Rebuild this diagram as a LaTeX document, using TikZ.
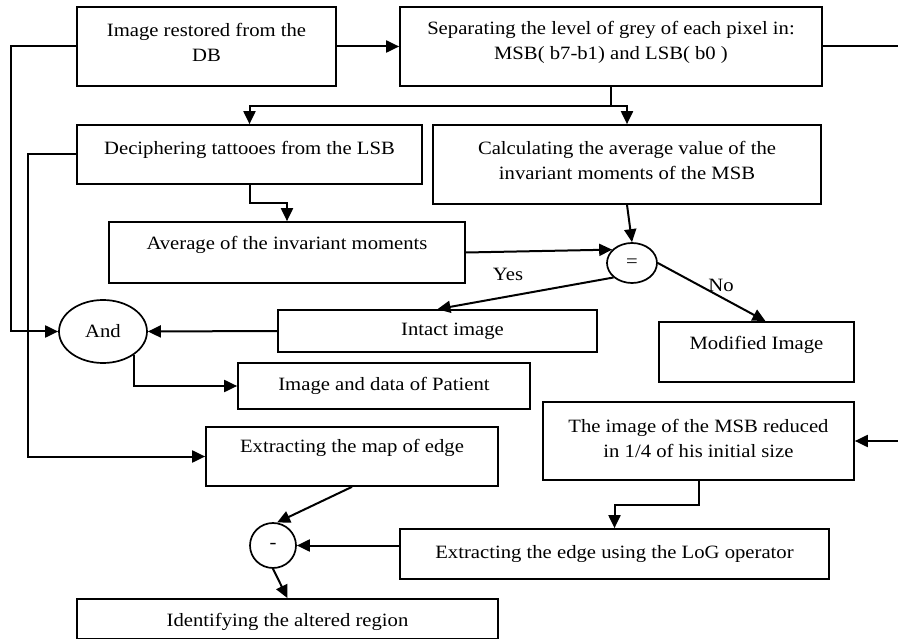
\documentclass[tikz,border=0pt]{standalone}
\usepackage{fontspec}
\setmainfont{Liberation Serif}[FakeStretch=1.1]
\usetikzlibrary{arrows.meta,shapes.geometric,calc}
\begin{document}
\begin{tikzpicture}[x=1pt,y=-1pt,
  txt/.style={align=center,font=\fontsize{18.8}{25}\selectfont,inner sep=0pt},
  box/.style={draw,line width=1.7pt,rectangle,inner sep=0pt},
  ell/.style={draw,line width=1.7pt,ellipse,inner sep=0pt,font=\fontsize{18.8}{25}\selectfont},
  conn/.style={line width=2pt},
  arr/.style={conn,-{Triangle[length=13pt,width=12pt]}}]
\useasboundingbox (0,0) rectangle (898,639);
\clip (0,0) rectangle (898,639);
\fill[white] (0,0) rectangle (898,639);

% boxes
\node[box,minimum width=259pt,minimum height=79pt,
  label={[txt,yshift=4pt]center:{Image restored from the\\DB}}] (b1) at (206.5,46.5) {};
\node[box,minimum width=422pt,minimum height=79pt,
  label={[txt,yshift=4pt]center:{Separating the level of grey of each pixel in:\\MSB( b7-b1) and LSB( b0 )}}] (b2) at (611,46.5) {};
\node[box,minimum width=345pt,minimum height=59pt,
  label={[txt,yshift=4.5pt]center:{Deciphering tattooes from the LSB}}] (b3) at (249.5,154.5) {};
\node[box,minimum width=388pt,minimum height=79pt,
  label={[txt,yshift=4pt]center:{Calculating the average value of the\\invariant moments of the MSB}}] (b4) at (627,164.5) {};
\node[box,minimum width=356pt,minimum height=61pt,
  label={[txt,yshift=7.5pt]center:{Average of the invariant moments}}] (avg) at (287,252.5) {};
\node[box,minimum width=319pt,minimum height=42pt,
  label={[txt,xshift=15pt]center:{Intact image}}] (intact) at (437.5,331) {};
\node[box,minimum width=292pt,minimum height=46pt,
  label={[txt]center:{Image and data of Patient}}] (imgdata) at (384,386) {};
\node[box,minimum width=195pt,minimum height=60pt,
  label={[txt,yshift=7pt]center:{Modified Image}}] (mod) at (756.5,352) {};
\node[box,minimum width=311pt,minimum height=78pt,
  label={[txt,yshift=3pt]center:{The image of the MSB reduced\\in 1/4 of his initial size}}] (red) at (698.5,441) {};
\node[box,minimum width=292pt,minimum height=59pt,
  label={[txt,yshift=8.5pt]center:{Extracting the map of edge}}] (map) at (352,456.5) {};
\node[box,minimum width=429pt,minimum height=50pt,
  label={[txt]center:{Extracting the edge using the LoG operator}}] (log) at (614.5,554) {};
\node[box,minimum width=421pt,minimum height=40pt,
  label={[txt,yshift=-3pt]center:{Identifying the altered region}}] (ident) at (287.5,619) {};

% ellipses
\node[ell,minimum width=50pt,minimum height=40pt] (eq) at (632,263) {=};
\node[ell,minimum width=88pt,minimum height=63pt] (and) at (103,331.5) {And};
\node[ell,minimum width=46pt,minimum height=45pt] (minus) at (273,545.5) {-};

% labels
\node[txt] (yes) at (508,274) {Yes};
\node[txt] (no) at (721,285) {No};

% free ends
\coordinate (rt1) at (898,46.5);
\coordinate (rt2) at (898,441);

% connectors
\draw[arr] (b1.east) -- (b2.west);
\draw[conn] (b2.east) -- (rt1);
\draw[arr] (b1.west) -- ++(-65,0) |- (and.west);
\draw[conn] (b2.south) -- ++(0,19) coordinate (sp);
\draw[arr] (sp) -| (b3.north);
\draw[arr] (sp) -| (b4.north);
\draw[arr] (b3.south) -- ++(0,18) -| (avg.north);
\draw[arr] (b3.west) -- ++(-48,0) |- (map.west);
\draw[arr] (avg.east) -- (eq.146);
\draw[arr] (b4.south) -- (eq.north);
\draw[arr] (eq.218) -- (intact.north);
\draw[arr] (eq.east) -- ($(mod.north)+(9,0)$);
\draw[arr] (intact.west) -- (and.east);
\draw[arr] (and.-37) |- (imgdata.west);
\draw[arr] (rt2) -- (red.east);
\draw[arr] (red.south) -- ++(0,24) -| (log.north);
\draw[arr] (map.south) -- (minus.80);
\draw[arr] (log.west |- minus.east) -- (minus.east);
\draw[arr] (minus.south) -- (ident.north);
\end{tikzpicture}
\end{document}
